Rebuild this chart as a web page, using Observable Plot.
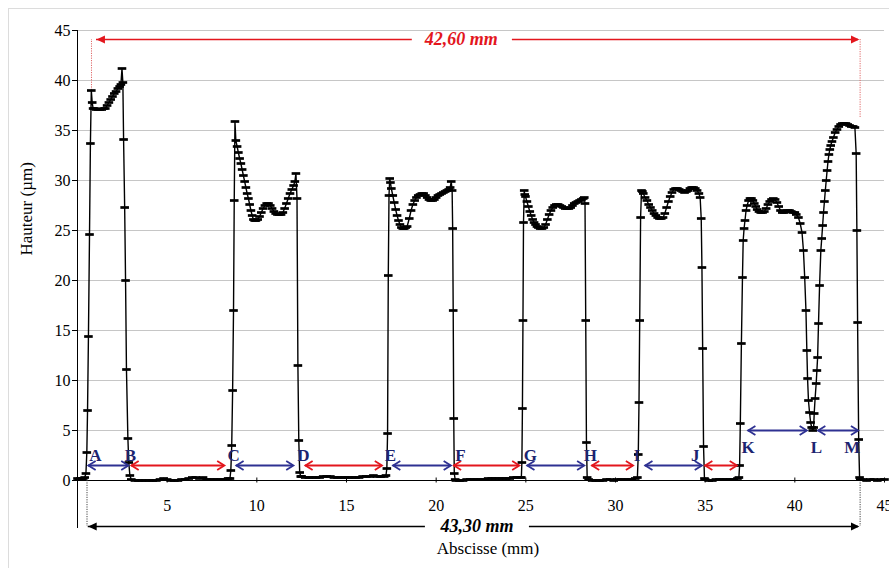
<!DOCTYPE html>
<html><head><meta charset="utf-8">
<script src="https://cdn.jsdelivr.net/npm/d3@7"></script>
<script src="https://cdn.jsdelivr.net/npm/@observablehq/plot@0.6"></script>
<style>
body{margin:0;background:#fff;overflow:hidden}
#wrap{position:relative;width:889px;height:568px;overflow:hidden}
#border{position:absolute;left:8px;top:8px;width:1000px;height:1000px;border:1px solid #dcdcdc;pointer-events:none}
</style></head><body><div id="wrap"><div id="border"></div></div>
<script>
// Profil mesuré : [abscisse (mm), hauteur (µm)]
const profil = [
[0.00,0.2],[0.08,0.1],[0.16,0.2],[0.24,0.1],[0.32,0.2],[0.40,0.3],
[0.47,0.7],[0.52,2.8],[0.56,7.0],[0.61,14.4],[0.67,24.6],[0.72,33.7],[0.77,39.0],[0.82,37.8],[0.87,37.2],
[0.95,37.2],[1.05,37.1],[1.15,37.1],[1.25,37.1],[1.35,37.1],[1.45,37.2],[1.55,37.2],[1.65,37.5],[1.75,37.8],[1.85,38.1],[1.95,38.4],[2.05,38.7],[2.15,38.9],[2.25,39.2],[2.35,39.4],[2.42,39.6],[2.48,41.2],[2.53,39.8],
[2.57,34.1],[2.63,27.3],[2.68,20.0],[2.73,11.1],[2.81,4.2],[2.86,1.8],[2.92,0.5],
[3.0,0.1],[3.2,0.0],[3.4,0.0],[3.6,0.0],[3.8,0.0],[4.0,0.0],[4.2,0.0],[4.4,0.0],[4.6,0.1],[4.8,0.2],[5.0,0.1],[5.2,0.0],[5.4,0.0],[5.6,0.0],[5.8,0.1],[6.0,0.1],[6.2,0.2],[6.4,0.3],[6.6,0.3],[6.8,0.2],[7.0,0.3],[7.2,0.1],[7.4,0.1],[7.6,0.1],[7.8,0.1],[8.0,0.1],[8.2,0.1],[8.4,0.2],
[8.50,0.2],[8.55,1.0],[8.60,3.5],[8.65,9.0],[8.70,17.0],[8.74,28.0],[8.78,35.9],[8.83,34.0],[8.90,33.4],[8.97,32.8],[9.04,32.2],[9.11,31.7],[9.18,31.1],[9.25,30.5],[9.32,29.9],[9.39,29.3],[9.46,28.7],[9.53,28.2],[9.60,27.6],[9.67,27.0],[9.74,26.5],[9.81,26.1],[9.88,26.0],
[9.95,26.0],[10.05,26.1],[10.15,26.4],[10.25,26.8],[10.35,27.2],[10.45,27.5],[10.55,27.7],[10.65,27.7],[10.75,27.5],[10.85,27.2],[10.95,26.9],[11.05,26.7],[11.15,26.6],[11.25,26.6],[11.35,26.6],[11.45,26.8],[11.55,27.2],[11.65,27.7],[11.75,28.2],[11.85,28.7],[11.95,29.1],[12.05,29.5],[12.12,29.9],[12.18,30.7],[12.24,28.2],
[12.29,11.5],[12.34,4.0],[12.39,0.8],[12.45,0.4],
[12.5,0.4],[12.7,0.3],[12.9,0.3],[13.1,0.3],[13.3,0.3],[13.5,0.3],[13.7,0.4],[13.9,0.4],[14.1,0.4],[14.3,0.3],[14.5,0.3],[14.7,0.3],[14.9,0.3],[15.1,0.3],[15.3,0.3],[15.5,0.3],[15.7,0.3],[15.9,0.4],[16.1,0.4],[16.3,0.4],[16.5,0.5],[16.7,0.4],[16.9,0.4],[17.1,0.4],
[17.20,0.5],[17.25,1.2],[17.29,4.7],[17.33,20.5],[17.37,28.5],[17.41,30.2],[17.45,29.8],[17.50,29.2],[17.58,28.5],[17.66,27.8],[17.74,27.1],[17.82,26.5],[17.90,26.0],[17.98,25.6],[18.06,25.3],[18.14,25.2],[18.22,25.2],[18.30,25.3],[18.38,25.4],[18.50,26.2],[18.60,27.0],[18.70,27.6],[18.80,28.0],[18.90,28.3],[19.00,28.5],[19.10,28.6],[19.20,28.7],[19.30,28.7],[19.40,28.5],[19.50,28.3],[19.60,28.1],[19.70,28.0],[19.80,28.0],[19.90,28.1],[20.00,28.3],[20.10,28.5],[20.20,28.6],[20.30,28.7],[20.40,28.8],[20.50,28.9],[20.60,29.0],[20.70,29.1],[20.78,29.3],[20.84,29.9],
[20.89,29.0],[20.92,25.2],[20.95,17.0],[20.98,6.2],[21.01,0.7],[21.06,0.1],
[21.1,0.0],[21.3,0.0],[21.5,0.0],[21.7,0.1],[21.9,0.1],[22.1,0.1],[22.3,0.1],[22.5,0.1],[22.7,0.1],[22.9,0.2],[23.1,0.2],[23.3,0.2],[23.5,0.2],[23.7,0.2],[23.9,0.2],[24.1,0.2],[24.3,0.3],[24.5,0.3],[24.7,0.3],
[24.75,0.3],[24.78,1.8],[24.81,7.2],[24.84,16.0],[24.87,25.8],[24.91,29.0],[24.94,28.6],[24.98,28.4],[25.06,27.9],[25.14,27.4],[25.22,26.9],[25.30,26.5],[25.38,26.1],[25.46,25.8],[25.54,25.6],[25.62,25.4],[25.70,25.3],[25.80,25.2],[25.90,25.2],[26.00,25.3],[26.10,25.6],[26.20,26.1],[26.30,26.6],[26.40,27.0],[26.50,27.3],[26.60,27.5],[26.70,27.6],[26.80,27.6],[26.90,27.5],[27.00,27.4],[27.10,27.3],[27.20,27.2],[27.30,27.2],[27.40,27.2],[27.50,27.3],[27.60,27.5],[27.70,27.7],[27.80,27.8],[27.90,27.9],[28.00,28.0],[28.10,28.1],[28.20,28.2],[28.26,28.3],
[28.30,27.7],[28.34,16.0],[28.38,3.8],[28.42,0.3],
[28.5,0.1],[28.7,0.0],[28.9,0.0],[29.1,0.0],[29.3,0.0],[29.5,0.1],[29.7,0.1],[29.9,0.0],[30.1,0.1],[30.3,0.1],[30.5,0.1],[30.7,0.1],[30.9,0.1],[31.1,0.2],
[31.22,0.3],[31.27,2.6],[31.31,7.8],[31.35,16.0],[31.40,26.3],[31.45,29.0],[31.50,28.9],[31.55,28.7],[31.65,28.3],[31.75,28.0],[31.85,27.6],[31.95,27.3],[32.05,27.0],[32.15,26.7],[32.25,26.5],[32.35,26.3],[32.45,26.2],[32.55,26.2],[32.65,26.3],[32.75,26.7],[32.85,27.3],[32.95,27.9],[33.05,28.4],[33.15,28.8],[33.25,29.1],[33.35,29.2],[33.45,29.2],[33.55,29.1],[33.65,29.0],[33.75,28.9],[33.85,28.8],[33.95,28.9],[34.05,29.0],[34.15,29.2],[34.25,29.3],[34.35,29.3],[34.45,29.2],[34.55,29.0],[34.65,28.7],[34.72,28.3],
[34.78,26.2],[34.82,21.3],[34.86,13.2],[34.91,3.4],[34.96,0.2],
[35.0,0.1],[35.2,0.0],[35.4,0.0],[35.6,0.1],[35.8,0.1],[36.0,0.1],[36.2,0.1],[36.4,0.1],[36.6,0.1],[36.8,0.2],
[36.88,0.3],[36.92,1.5],[36.96,5.7],[37.02,13.7],[37.08,20.3],[37.12,24.0],[37.17,25.2],[37.22,26.0],[37.28,27.0],[37.34,27.5],[37.42,28.0],[37.50,28.2],[37.58,28.2],[37.66,28.0],[37.74,27.7],[37.82,27.4],[37.90,27.1],[38.00,26.9],[38.10,26.8],[38.20,26.8],[38.30,26.9],[38.40,27.2],[38.50,27.6],[38.60,27.9],[38.70,28.1],[38.80,28.2],[38.90,28.1],[39.00,27.8],[39.10,27.4],[39.20,27.0],[39.30,26.8],[39.40,26.8],[39.50,26.9],[39.60,27.0],[39.70,27.0],[39.80,26.9],[39.90,26.8],[40.00,26.8],[40.08,26.6],
[40.20,26.3],[40.30,25.7],[40.40,24.8],[40.48,23.0],[40.55,20.3],[40.62,17.0],[40.67,13.0],[40.71,10.2],[40.76,8.0],[40.82,6.8],[40.88,5.8],[40.94,5.3],[41.00,5.0],[41.05,5.3],
[41.08,6.7],[41.13,8.2],[41.19,9.7],[41.23,11.0],[41.27,12.3],[41.32,15.7],[41.38,19.5],[41.45,23.0],[41.50,24.2],[41.55,25.5],[41.60,26.8],[41.65,27.9],[41.70,29.0],[41.75,30.0],[41.80,31.0],[41.85,31.9],[41.90,32.6],[41.95,33.1],[42.00,33.5],[42.07,33.9],[42.15,34.3],[42.25,34.8],[42.35,35.1],[42.45,35.4],[42.55,35.6],[42.65,35.7],[42.75,35.7],[42.85,35.7],[42.95,35.6],[43.05,35.5],[43.15,35.4],[43.25,35.4],[43.35,35.3],
[43.42,32.7],[43.46,25.0],[43.50,15.8],[43.56,4.1],[43.61,0.3],
[43.65,0.1],[43.8,0.1],[44.0,0.0],[44.2,0.1],[44.4,0.1],[44.6,0.0],[44.8,0.1],[45.0,0.1]
];

const xTicks = [5,10,15,20,25,30,35,40,45];
const yTicks = [0,5,10,15,20,25,30,35,40,45];

// Flèches entre repères (type : "b" = bleu, "r" = rouge)
const fleches = [
 {x1:0.61,x2:2.84,y:1.5,t:"b"},{x1:3.01,x2:8.19,y:1.5,t:"r"},{x1:8.86,x2:12.04,y:1.5,t:"b"},
 {x1:12.71,x2:16.98,y:1.5,t:"r"},{x1:17.6,x2:20.82,y:1.5,t:"b"},{x1:20.99,x2:24.64,y:1.5,t:"r"},
 {x1:25.08,x2:28.26,y:1.5,t:"b"},{x1:28.69,x2:30.98,y:1.5,t:"r"},{x1:31.66,x2:34.82,y:1.5,t:"b"},
 {x1:35.0,x2:36.77,y:1.5,t:"r"},{x1:37.4,x2:40.67,y:5.0,t:"b"},{x1:41.3,x2:43.53,y:5.0,t:"b"}
];
const lettres = [
 {l:"A",x:1.0,y:2.5},{l:"B",x:2.95,y:2.5},{l:"C",x:8.7,y:2.5},{l:"D",x:12.6,y:2.5},
 {l:"E",x:17.45,y:2.5},{l:"F",x:21.35,y:2.5},{l:"G",x:25.25,y:2.5},{l:"H",x:28.6,y:2.5},
 {l:"I",x:31.2,y:2.5},{l:"J",x:34.45,y:2.5},{l:"K",x:37.4,y:3.3},{l:"L",x:41.2,y:3.3},{l:"M",x:43.2,y:3.3}
];
// Cote supérieure (42,60 mm) et inférieure (43,30 mm)
const coteHautSegments = [[1.06,18.67],[24.25,43.55]];
const coteHautPointes = [{x:1.06,dir:"g"},{x:43.6,dir:"d"}];
const coteHautReperes = [{x:0.78,y1:39.0},{x:43.64,y1:36.3}];
const coteHautNiveau = 44.1;
const coteHautTexte = {texte:"42,60 mm", x:21.4};
const coteBasSegments = [[0.6,19.4],[25.2,43.55]];
const coteBasPointes = [{x:0.6,dir:"g"},{x:43.6,dir:"d"}];
const coteBasReperes = [0.53,43.64];
const coteBasNiveau = -4.6;
const coteBasTexte = {texte:"43,30 mm", x:22.28};

const tiret = {draw(ctx, size){ const r = Math.sqrt(size/Math.PI); ctx.moveTo(-r,0); ctx.lineTo(r,0); }};
const pointeG = {draw(ctx, size){ const r = Math.sqrt(size/Math.PI); ctx.moveTo(0,0); ctx.lineTo(2.1*r,-r); ctx.lineTo(2.1*r,r); ctx.closePath(); }};
const pointeD = {draw(ctx, size){ const r = Math.sqrt(size/Math.PI); ctx.moveTo(0,0); ctx.lineTo(-2.1*r,-r); ctx.lineTo(-2.1*r,r); ctx.closePath(); }};
const chevronG = {draw(ctx, size){ const r = Math.sqrt(size/Math.PI); ctx.moveTo(1.6*r,-r); ctx.lineTo(0,0); ctx.lineTo(1.6*r,r); }};
const chevronD = {draw(ctx, size){ const r = Math.sqrt(size/Math.PI); ctx.moveTo(-1.6*r,-r); ctx.lineTo(0,0); ctx.lineTo(-1.6*r,r); }};

const ROUGE = "#e3161d", BLEU = "#2e3192", MARINE = "#1c2470";
const serif = "'Liberation Serif','Times New Roman',serif";
const couleur = d => d.t === "b" ? BLEU : ROUGE;

const chart = Plot.plot({
  width: 889, height: 568,
  marginLeft: 77, marginRight: 5, marginTop: 30, marginBottom: 40,
  x: {domain: [0,45], axis: null},
  y: {domain: [-4.8,45]},
  style: {fontFamily: serif, fontSize: "16px", background: "transparent", color: "#000"},
  marks: [
    Plot.ruleY(yTicks.filter(d => d > 0), {y: d => d, x1: 0, x2: 45, stroke: "#c6c6c6", strokeWidth: 1}),
    Plot.axisY(yTicks, {tickSize: 5, tickPadding: 2, fontSize: 16, label: null, stroke: "#000"}),
    Plot.ruleX([0], {x: d => d, stroke: "#000", strokeWidth: 1}),
    Plot.ruleY([0], {y: d => d, x1: 0, x2: 45, stroke: "#000", strokeWidth: 1}),
    Plot.ruleX(xTicks, {x: d => d, y1: -0.25, y2: 0.25, stroke: "#000"}),
    Plot.text(xTicks, {x: d => d, y: -2.5, text: d => String(d), fontSize: 16}),
    // cote haute
    Plot.ruleX(coteHautReperes, {x: "x", y1: "y1", y2: coteHautNiveau, stroke: "#e06a6a", strokeDasharray: "1.2,1.2", strokeWidth: 1}),
    Plot.ruleY(coteHautSegments, {x1: d => d[0], x2: d => d[1], y: coteHautNiveau, stroke: ROUGE, strokeWidth: 1.5}),
    Plot.dot(coteHautPointes.filter(d => d.dir === "g"), {x: "x", y: coteHautNiveau, symbol: pointeG, r: 4, fill: ROUGE, stroke: "none"}),
    Plot.dot(coteHautPointes.filter(d => d.dir === "d"), {x: "x", y: coteHautNiveau, symbol: pointeD, r: 4, fill: ROUGE, stroke: "none"}),
    Plot.text([coteHautTexte], {x: "x", y: coteHautNiveau, text: "texte", fill: ROUGE, fontWeight: "bold", fontStyle: "italic", fontSize: 18}),
    // cote basse
    Plot.ruleX(coteBasReperes, {x: d => d, y1: 0, y2: coteBasNiveau, stroke: "#444", strokeDasharray: "1.2,1.2", strokeWidth: 1}),
    Plot.ruleY(coteBasSegments, {x1: d => d[0], x2: d => d[1], y: coteBasNiveau, stroke: "#000", strokeWidth: 1.3}),
    Plot.dot(coteBasPointes.filter(d => d.dir === "g"), {x: "x", y: coteBasNiveau, symbol: pointeG, r: 4, fill: "#000", stroke: "none"}),
    Plot.dot(coteBasPointes.filter(d => d.dir === "d"), {x: "x", y: coteBasNiveau, symbol: pointeD, r: 4, fill: "#000", stroke: "none"}),
    Plot.text([coteBasTexte], {x: "x", y: coteBasNiveau, text: "texte", fill: "#000", fontWeight: "bold", fontStyle: "italic", fontSize: 18}),
    // profil
    Plot.line(profil, {x: d => d[0], y: d => d[1], stroke: "#000", strokeWidth: 1.4}),
    Plot.dot(profil, {x: d => d[0], y: d => d[1], symbol: tiret, r: 4.3, fill: "none", stroke: "#000", strokeWidth: 2.7}),
    // flèches
    Plot.ruleY(fleches, {x1: "x1", x2: "x2", y: "y", stroke: couleur, strokeWidth: 1.8}),
    Plot.dot(fleches, {x: "x1", y: "y", symbol: chevronG, r: 4.5, fill: "none", stroke: couleur, strokeWidth: 1.8}),
    Plot.dot(fleches, {x: "x2", y: "y", symbol: chevronD, r: 4.5, fill: "none", stroke: couleur, strokeWidth: 1.8}),
    Plot.text(lettres, {x: "x", y: "y", text: "l", fill: MARINE, fontWeight: "bold", fontSize: 17}),
    // titres des axes
    Plot.text(["Hauteur (µm)"], {frameAnchor: "left", dx: -51, dy: -24, rotate: -90, fontSize: 17}),
    Plot.text(["Abscisse (mm)"], {frameAnchor: "bottom", dx: 7, dy: 25, fontSize: 17})
  ]
});
chart.style.position = "absolute";
chart.style.left = "0px";
chart.style.top = "0px";
chart.style.overflow = "visible";
document.getElementById("wrap").prepend(chart);
</script>
</body></html>
